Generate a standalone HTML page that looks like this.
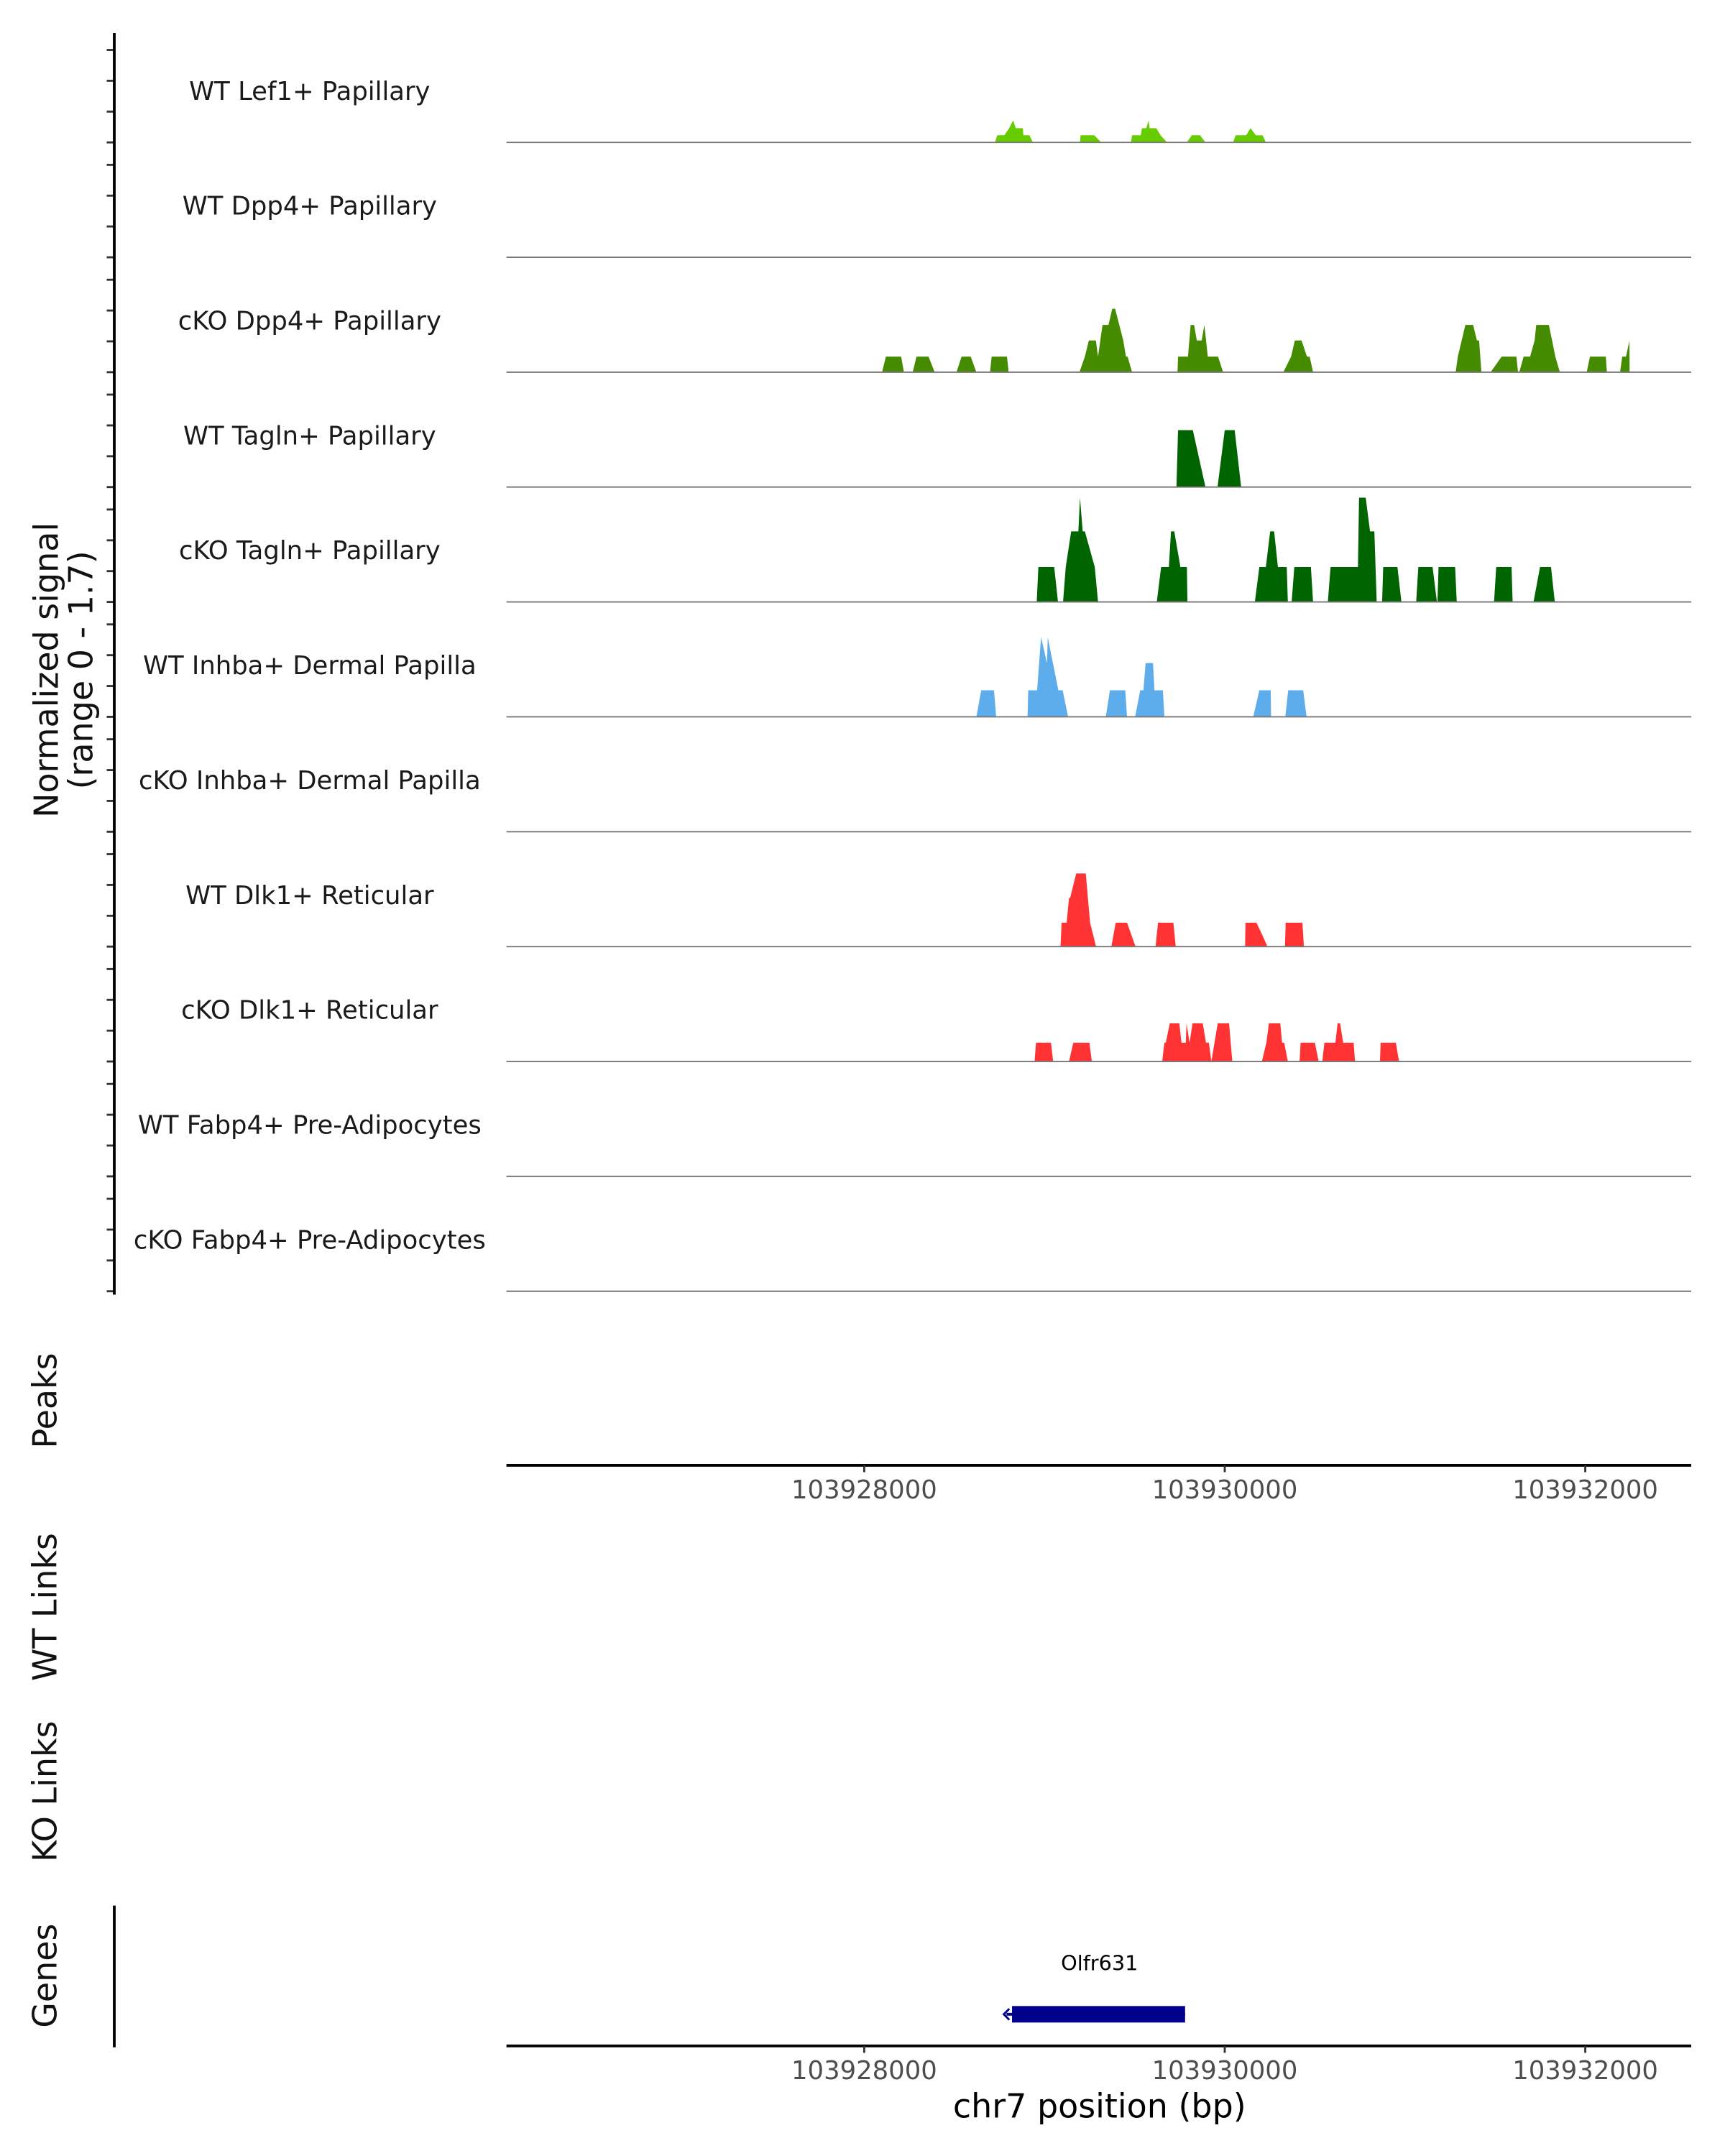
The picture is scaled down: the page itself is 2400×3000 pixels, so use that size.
<!DOCTYPE html>
<html><head><meta charset="utf-8"><style>
html,body{margin:0;padding:0;background:#fff}
svg{display:block}
text{font-family:"DejaVu Sans","Liberation Sans",sans-serif}
</style></head><body>
<svg id="chart" xmlns="http://www.w3.org/2000/svg" width="2400" height="3000" viewBox="0 0 1253.5 1567">
<g id="tracks"></g>
<g id="axes"></g>
<text transform="translate(42,487) rotate(-90)" text-anchor="middle" font-size="24" fill="#111">Normalized signal</text>
<text transform="translate(67,487) rotate(-90)" text-anchor="middle" font-size="24" fill="#111">(range 0 - 1.7)</text>
<text transform="translate(41,1018) rotate(-90)" text-anchor="middle" font-size="24" fill="#111">Peaks</text>
<text transform="translate(41,1168) rotate(-90)" text-anchor="middle" font-size="24" fill="#111">WT Links</text>
<text transform="translate(41,1302) rotate(-90)" text-anchor="middle" font-size="24" fill="#111">KO Links</text>
<text transform="translate(41,1436) rotate(-90)" text-anchor="middle" font-size="24" fill="#111">Genes</text>
<line x1="83" y1="1385" x2="83" y2="1488" stroke="#000" stroke-width="2"/>
<text x="799" y="1432" text-anchor="middle" font-size="15" fill="#000">Olfr631</text>
<g id="gene"></g>
<text x="799" y="1539" text-anchor="middle" font-size="24" fill="#000">chr7 position (bp)</text>
</svg>
<script>
const BASE = 103928000;
const trackLabels = ["WT Lef1+ Papillary","WT Dpp4+ Papillary","cKO Dpp4+ Papillary","WT Tagln+ Papillary","cKO Tagln+ Papillary","WT Inhba+ Dermal Papilla","cKO Inhba+ Dermal Papilla","WT Dlk1+ Reticular","cKO Dlk1+ Reticular","WT Fabp4+ Pre-Adipocytes","cKO Fabp4+ Pre-Adipocytes"];
const trackColors = ["#66CC00","#458B00","#458B00","#006400","#006400","#5DADEC","#5DADEC","#FF3333","#FF3333","#FF3333","#FF3333"];
const xTicks = [103928000,103930000,103932000];
const geneStart = 103928820, geneEnd = 103929780;
const t1 = [[725,0],[738,.11],[777,.11],[804,.22],[826,.34],[841,.22],[880,.22],[883,.11],[917,.11],[935,0],[1197,0],[1200,.11],[1276,.11],[1315,0],[1480,0],[1486,.11],[1534,.11],[1541,.22],[1565,.22],[1577,.34],[1583,.22],[1620,.22],[1644,.11],[1680,0],[1790,0],[1817,.11],[1863,.11],[1893,0],[2046,0],[2061,.11],[2119,.11],[2143,.22],[2173,.11],[2210,.11],[2228,0]];
const t2 = [];
const t3 = [[99,0],[120,.24],[205,.24],[220,0],[269,0],[290,.24],[357,.24],[391,0],[512,0],[540,.24],[591,.24],[622,0],[698,0],[707,.24],[792,.24],[801,0],[1194,0],[1224,.24],[1246,.49],[1285,.49],[1297,.24],[1322,.73],[1355,.73],[1376,.98],[1392,.98],[1437,.49],[1452,.24],[1461,.24],[1486,0],[1738,0],[1741,.24],[1796,.24],[1811,.73],[1830,.73],[1845,.49],[1872,.49],[1887,.73],[1906,.24],[1963,.24],[1991,0],[2325,0],[2368,.24],[2389,.49],[2426,.49],[2456,.24],[2471,.24],[2490,0],[3281,0],[3293,.24],[3335,.73],[3378,.73],[3399,.49],[3411,.49],[3424,0],[3475,0],[3536,.24],[3618,.24],[3627,0],[3634,0],[3658,.24],[3694,.24],[3719,.49],[3728,.73],[3798,.73],[3816,.49],[3834,.24],[3859,0],[4008,0],[4026,.24],[4114,.24],[4120,0],[4193,0],[4205,.24],[4226,.24],[4245,.49],[4246,0]];
const t4 = [[1732,0],[1741,.88],[1823,.88],[1893,0],[1960,0],[2000,.88],[2055,.88],[2091,0]];
const t5 = [[957,0],[966,.54],[1054,.54],[1075,0],[1103,0],[1118,.54],[1148,1.09],[1188,1.09],[1197,1.61],[1212,1.09],[1224,1.09],[1279,.54],[1297,0],[1623,0],[1647,.54],[1690,.54],[1702,1.09],[1720,1.09],[1754,.54],[1790,.54],[1793,0],[2167,0],[2192,.54],[2228,.54],[2252,1.09],[2274,1.09],[2295,.54],[2344,.54],[2350,0],[2371,0],[2386,.54],[2478,.54],[2490,0],[2572,0],[2587,.54],[2739,.54],[2745,1.61],[2782,1.61],[2806,1.09],[2830,1.09],[2843,0],[2873,0],[2879,.54],[2958,.54],[2980,0],[3062,0],[3074,.54],[3153,.54],[3177,0],[3180,0],[3186,.54],[3278,.54],[3287,0],[3494,0],[3506,.54],[3591,.54],[3597,0],[3713,0],[3749,.54],[3810,.54],[3831,0]];
const t6 = [[622,0],[649,.41],[720,.41],[732,0],[906,0],[910,.41],[959,.41],[981,1.23],[1014,.83],[1018,1.23],[1077,.41],[1101,.41],[1131,0],[1340,0],[1363,.41],[1448,.41],[1458,0],[1503,0],[1531,.41],[1549,.41],[1561,.83],[1602,.83],[1610,.41],[1657,.41],[1665,0],[2158,0],[2192,.41],[2255,.41],[2257,0],[2336,0],[2352,.41],[2435,.41],[2454,0]];
const t7 = [];
const t8 = [[1089,0],[1095,.37],[1123,.37],[1136,.75],[1142,.75],[1176,1.13],[1229,1.13],[1253,.37],[1286,0],[1371,0],[1395,.37],[1458,.37],[1505,0],[1616,0],[1630,.37],[1715,.37],[1728,0],[2113,0],[2115,.37],[2176,.37],[2210,.17],[2237,0],[2334,0],[2338,.37],[2431,.37],[2439,0]];
const t9 = [[945,0],[953,.29],[1036,.29],[1048,0],[1136,0],[1160,.29],[1249,.29],[1263,0],[1653,0],[1665,.29],[1673,.29],[1695,.59],[1748,.59],[1760,.29],[1784,.29],[1788,.59],[1805,.29],[1821,.59],[1878,.59],[1896,.29],[1912,.29],[1926,0],[1961,.59],[2024,.59],[2042,0],[2206,0],[2231,.29],[2245,.59],[2308,.59],[2318,.29],[2330,.29],[2350,0],[2415,0],[2421,.29],[2500,.29],[2521,0],[2541,0],[2553,.29],[2614,.29],[2626,.59],[2640,.59],[2657,.29],[2715,.29],[2723,0],[2861,0],[2865,.29],[2949,.29],[2967,0]];
const t10 = [];
const t11 = [];
const trackData = [t1,t2,t3,t4,t5,t6,t7,t8,t9,t10,t11];

const NS = "http://www.w3.org/2000/svg";
const PX0 = 368, PX1 = 1229;
const xScale = bp => 628 + (bp - 103928000) * 0.131;
const baseY = i => 103.5 + i * 83.5;
const yScale = (i, v) => baseY(i) - v / 1.7 * 80;
function mk(tag, attrs, parent) {
  const e = document.createElementNS(NS, tag);
  for (const k in attrs) e.setAttribute(k, attrs[k]);
  parent.appendChild(e);
  return e;
}
const tracks = document.getElementById('tracks');
const axes = document.getElementById('axes');

trackLabels.forEach((lab, i) => {
  const pts = trackData[i];
  if (pts.length) {
    let d = "M" + xScale(BASE + pts[0][0]) + "," + baseY(i);
    pts.forEach(p => { d += "L" + xScale(BASE + p[0]).toFixed(2) + "," + yScale(i, p[1]).toFixed(2); });
    d += "L" + xScale(BASE + pts[pts.length - 1][0]).toFixed(2) + "," + baseY(i) + "Z";
    const a = mk('path', {d: d, fill: trackColors[i], stroke: "none"}, tracks);
    
    
  }
  const bl = mk('line', {x1: PX0, x2: PX1, y1: baseY(i), y2: baseY(i), stroke: "#777", "stroke-width": 1}, tracks);
  
  
  const t = mk('text', {x: 225, y: baseY(i) - 31, "text-anchor": "middle", "font-size": 18.5, fill: "#1a1a1a"}, tracks);
  t.textContent = lab;
  
  
  for (let k = 0; k < 4; k++) {
    const tk = mk('line', {x1: 77.5, x2: 83, y1: baseY(i) - k * 22.4, y2: baseY(i) - k * 22.4, stroke: "#333", "stroke-width": 1.5}, axes);
    
    
  }
});
const yl = mk('line', {x1: 83, x2: 83, y1: 24, y2: 941, stroke: "#000", "stroke-width": 2}, axes);



[1065, 1487].forEach(ay => {
  const xl = mk('line', {x1: PX0, x2: PX1, y1: ay, y2: ay, stroke: "#000", "stroke-width": 2}, axes);
  
  
  xTicks.forEach(v => {
    const tk = mk('line', {x1: xScale(v), x2: xScale(v), y1: ay, y2: ay + 5, stroke: "#333", "stroke-width": 1.5}, axes);
    
    
    const tl = mk('text', {x: xScale(v), y: ay + 24, "text-anchor": "middle", "font-size": 18.5, fill: "#4d4d4d"}, axes);
    tl.textContent = String(v);
    
    
  });
});

const gene = document.getElementById('gene');
const gx0 = xScale(geneStart), gx1 = xScale(geneEnd);
const gl = mk('line', {x1: gx0 - 4, x2: gx1, y1: 1464, y2: 1464, stroke: "#00008B", "stroke-width": 2}, gene);


const gb = mk('rect', {x: gx0, y: 1458, width: gx1 - gx0, height: 12, fill: "#00008B"}, gene);


const ga = mk('path', {d: "M" + (gx0 - 2) + ",1460L" + (gx0 - 6) + ",1464L" + (gx0 - 2) + ",1468", fill: "none", stroke: "#00008B", "stroke-width": 1.5}, gene);


</script>
</body></html>
